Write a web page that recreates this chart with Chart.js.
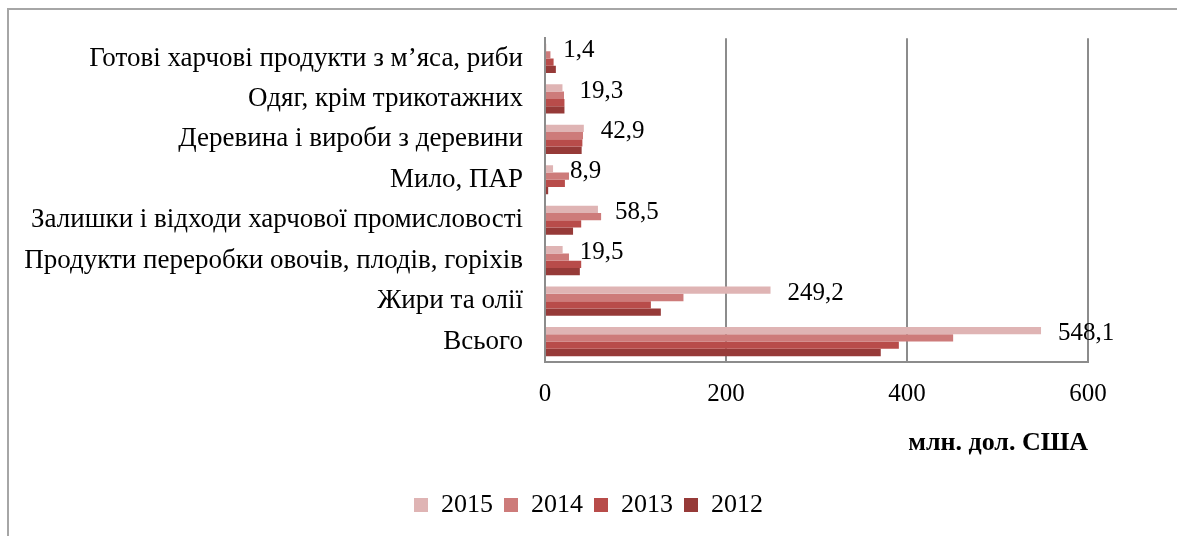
<!DOCTYPE html>
<html>
<head>
<meta charset="utf-8">
<script src="https://cdn.jsdelivr.net/npm/chart.js@4.4.1/dist/chart.umd.min.js"></script>
<style>
    html, body { margin: 0; padding: 0; background: #fff; }
    #wrap { position: relative; width: 1177px; height: 536px; overflow: hidden; }
    #frame {
        position: absolute; left: 7px; top: 8px; width: 1200px; height: 600px;
        border-top: 2px solid #a6a6a6; border-left: 2px solid #a6a6a6;
    }
    canvas { position: absolute; left: 0; top: 0; }
</style>
</head>
<body>
<div id="wrap">
    <div id="frame"></div>
    <canvas id="chart" width="1177" height="536"></canvas>
</div>
<script>
const categories = [
    "Готові харчові продукти з м’яса, риби",
    "Одяг, крім трикотажних",
    "Деревина і вироби з деревини",
    "Мило, ПАР",
    "Залишки і відходи харчової промисловості",
    "Продукти переробки овочів, плодів, горіхів",
    "Жири та олії",
    "Всього"
];

const years = ["2015", "2014", "2013", "2012"];

const values2015 = [1.4, 19.3, 42.9, 8.9, 58.5, 19.5, 249.2, 548.1];
const values2014 = [6, 21, 42, 26.5, 62, 26.5, 153, 451];
const values2013 = [9.5, 21.5, 41.3, 22, 40, 40, 117, 391];
const values2012 = [12, 21.5, 40.5, 3.5, 31, 38.5, 128, 371];

const xTicks = [0, 200, 400, 600];

const colors = ["#dfb4b4", "#cd7b7a", "#b84c4a", "#963a38"];

const serif = "'Liberation Serif', 'DejaVu Serif', serif";

// value labels only for the 2015 series, right of the bar
const valueLabels = {
    id: "valueLabels",
    afterDatasetsDraw(chart) {
        const ctx = chart.ctx;
        const meta = chart.getDatasetMeta(0);
        ctx.save();
        ctx.font = "25px " + serif;
        ctx.fillStyle = "#000";
        ctx.textAlign = "left";
        ctx.textBaseline = "middle";
        meta.data.forEach((bar, i) => {
            const txt = values2015[i].toString().replace(".", ",");
            ctx.fillText(txt, bar.x + 17, bar.y + 3);
        });
        ctx.restore();
    }
};

const datasetValues = [values2015, values2014, values2013, values2012];

const ctx = document.getElementById("chart").getContext("2d");
const chart = new Chart(ctx, {
    type: "bar",
    data: {
        labels: categories,
        datasets: years.map((y, i) => ({
            label: y,
            data: datasetValues[i],
            backgroundColor: colors[i],
            borderWidth: 0,
            categoryPercentage: 0.72,
            barPercentage: 1
        }))
    },
    options: {
        indexAxis: "y",
        responsive: false,
        animation: false,
        layout: {
            padding: { top: 38, left: 0, right: 0, bottom: 8 }
        },
        plugins: {
            tooltip: { enabled: false },
            legend: {
                position: "bottom",
                labels: {
                    font: { family: serif, size: 26 },
                    color: "#000",
                    boxWidth: 14,
                    boxHeight: 14,
                    padding: 11
                }
            }
        },
        scales: {
            x: {
                min: 0,
                max: 600,
                afterBuildTicks: (scale) => {
                    scale.ticks = xTicks.map(v => ({ value: v }));
                },
                grid: {
                    color: "#8c8c8c",
                    lineWidth: 2,
                    drawTicks: false
                },
                border: { display: true, color: "#8c8c8c", width: 2 },
                ticks: {
                    font: { family: serif, size: 25 },
                    color: "#000",
                    padding: 18
                },
                title: {
                    display: true,
                    text: "млн. дол. США",
                    align: "end",
                    color: "#000",
                    font: { family: serif, size: 26, weight: "bold" },
                    padding: { top: 0, bottom: 22 }
                }
            },
            y: {
                afterFit: (scale) => { scale.width = 545; },
                grid: { drawOnChartArea: false, drawTicks: false },
                border: { display: true, color: "#8c8c8c", width: 2 },
                ticks: {
                    font: { family: serif, size: 27 },
                    color: "#000",
                    padding: 22
                }
            },
            yRight: {
                position: "right",
                afterFit: (scale) => { scale.width = 89; },
                grid: { display: false, drawTicks: false },
                border: { display: false },
                ticks: { display: false }
            }
        }
    },
    plugins: [valueLabels]
});
</script>
</body>
</html>
